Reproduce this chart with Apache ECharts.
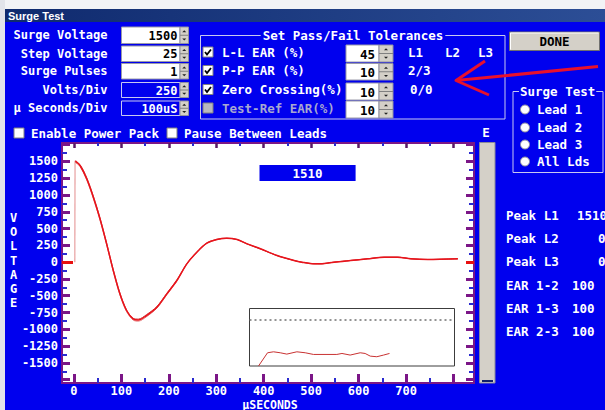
<!DOCTYPE html>
<html>
<head>
<meta charset="utf-8">
<script src="https://cdn.jsdelivr.net/npm/echarts@6/dist/echarts.min.js"></script>
<style>
  html, body { margin: 0; padding: 0; background: #0000ee; }
  #ui, #plot, #ticks { position: absolute; left: 0; top: 0; width: 605px; height: 410px; }
</style>
</head>
<body>
<div id="ui"></div>
<div id="plot"></div>
<div id="ticks"></div>
<script>
// surge waveform: time in µs, voltage in V (three overlapping pulses)
const surgeTimes = [3, 13, 27, 41, 55, 69, 83, 97, 111, 125, 136, 153, 175, 196, 217, 238, 259, 280, 301, 322, 344, 365, 393, 428, 464, 480, 506, 520, 548, 583, 619, 654, 682, 710, 746, 809]
const pulse1 = [1510, 1440, 1242, 968, 646, 273, -124, -472, -720, -845, -860, -795, -671, -472, -273, -25, 148, 282, 338, 357, 338, 273, 199, 99, 25, 0, -25, -25, 0, 25, 50, 74, 74, 50, 40, 50]
const pulse2 = [1495, 1452, 1260, 985, 660, 285, -110, -460, -712, -838, -848, -782, -660, -462, -265, -20, 152, 285, 340, 358, 336, 270, 196, 97, 24, 0, -24, -25, 0, 25, 50, 74, 74, 50, 40, 50]
const pulse3 = [1485, 1428, 1228, 952, 630, 262, -138, -488, -735, -862, -878, -812, -684, -482, -280, -30, 142, 278, 334, 354, 338, 274, 200, 100, 25, 0, -25, -25, 0, 25, 50, 74, 74, 50, 40, 50]
const riseTimes = [2, 2.5]
const riseVolts = [0, 1510]

// axis ticks / labels
const xTickLabels = [0, 100, 200, 300, 400, 500, 600, 700]
const xMajorTicks = [0, 100, 200, 300, 400, 500, 600, 700, 800]
const xMinorTicks = [50, 150, 250, 350, 450, 550, 650, 750]
const yTickLabels = [-1500, -1250, -1000, -750, -500, -250, 0, 250, 500, 750, 1000, 1250, 1500]
const yMajorTicks = [-1750, -1500, -1250, -1000, -750, -500, -250, 0, 250, 500, 750, 1000, 1250, 1500, 1750]
const yMinorTicks = [-1625, -1375, -1125, -875, -625, -375, -125, 125, 375, 625, 875, 1125, 1375, 1625]

// small inset trace (percent of window) and its limit line
const insetX = [4.4, 8.8, 11.7, 15, 18.2, 23.1, 27.2, 31.2, 37.8, 42.6, 45.1, 49.1, 54, 56.4, 58.9, 62.1, 65.4, 68.3]
const insetY = [0, 23, 24.7, 23, 20.7, 24.7, 23, 20.1, 20.1, 20.1, 21.8, 19, 23, 21.8, 17.2, 16.1, 19, 21.8]
const insetLimit = 80

// panel readouts
const setupLabels = ['Surge Voltage', 'Step Voltage', 'Surge Pulses', 'Volts/Div', 'µ Seconds/Div']
const setupValues = ['1500', '25', '1', '250', '100uS']
const tolLabels = ['L-L EAR (%)', 'P-P EAR (%)', 'Zero Crossing(%)', 'Test-Ref EAR(%)']
const tolValues = ['45', '10', '10', '10']
const leadOptions = ['Lead 1', 'Lead 2', 'Lead 3', 'All Lds']
const resultLabels = ['Peak L1', 'Peak L2', 'Peak L3', 'EAR 1-2', 'EAR 1-3', 'EAR 2-3']
const resultValues = ['1510', '0', '0', '100', '100', '100']
const peakL1 = 1510

const BLUE = '#0000ee'
const PURPLE = '#7b1687'
const TICKBLUE = '#2a2ad0'
const GREY = '#d4d0c8'
const MONO = '"DejaVu Sans Mono", monospace'

function txt(s, x, y, o) {
  o = o || {}
  const al = o.align || 'left'
  const style = {
    text: s, fill: o.fill || '#fff',
    font: 'bold ' + (o.size || 12.5) + 'px ' + (o.family || MONO),
    textAlign: al, align: al, textVerticalAlign: 'middle', verticalAlign: 'middle'
  }
  if (o.bg) { style.backgroundColor = o.bg; style.padding = o.pad }
  if (o.lh) style.lineHeight = o.lh
  return { type: 'text', x: x, y: y, z: 20, silent: true, style: style }
}
function rect(x, y, w, h, fill, stroke, lw) {
  return { type: 'rect', z: 10, silent: true, shape: { x: x, y: y, width: w, height: h },
    style: { fill: fill || 'none', stroke: stroke || null, lineWidth: lw || 1 } }
}
function spinner(x, y, w, h) {
  const cx = x + w / 2, m = y + h / 2
  return [
    rect(x, y, w, h, GREY, '#9090a0'),
    { type: 'line', z: 11, silent: true, shape: { x1: x, y1: m, x2: x + w, y2: m }, style: { stroke: '#808080', lineWidth: 1 } },
    { type: 'polygon', z: 11, silent: true, shape: { points: [[cx - 2, y + h / 4 + 1], [cx + 2, y + h / 4 + 1], [cx, y + h / 4 - 1]] }, style: { fill: '#202020' } },
    { type: 'polygon', z: 11, silent: true, shape: { points: [[cx - 2, m + h / 4 - 1], [cx + 2, m + h / 4 - 1], [cx, m + h / 4 + 1]] }, style: { fill: '#202020' } }
  ]
}
function checkbox(x, y, state) {
  const els = [rect(x, y, 10, 10, state === 'off' ? '#b8b8c0' : '#fff', '#808080')]
  if (state === 'on') {
    els.push({ type: 'polyline', z: 12, silent: true, shape: { points: [[x + 2, y + 5], [x + 4, y + 7.5], [x + 8, y + 2.5]] },
      style: { stroke: '#000', lineWidth: 1.8, fill: 'none' } })
  }
  return els
}

const g = []
// window frame
g.push(rect(0, 0, 605, 9, '#f2f3f6'))
g.push(rect(0, 0, 5, 410, '#e2e4ea'))
g.push({ type: 'rect', z: 10, silent: true, shape: { x: 5, y: 9, width: 600, height: 13 },
  style: { fill: { type: 'linear', x: 0, y: 0, x2: 1, y2: 0, colorStops: [{ offset: 0, color: '#0f2a6e' }, { offset: 1, color: '#2c4e96' }] } } })
g.push(txt('Surge Test', 8, 15.5, { size: 11, family: '"Liberation Sans", Arial, sans-serif' }))

// setup fields
const rowY = [[27, 16.5], [46, 15.5], [63.5, 15.5], [82.5, 15], [101, 14.5]]
setupLabels.forEach(function (lab, i) {
  const y = rowY[i][0], h = rowY[i][1]
  g.push(txt(lab, 107.5, y + h / 2, { size: 12, align: 'right' }))
  const white = i < 3
  g.push(rect(121.5, y, 58.5, h, white ? '#fff' : BLUE, white ? '#9a9aa8' : '#c8c8f0'))
  g.push(txt(setupValues[i], 177.5, y + h / 2 + 0.5, { size: 12, align: 'right', fill: white ? '#000' : '#fff' }))
  spinner(180, y, 8.5, h).forEach(function (e) { g.push(e) })
})

// option checkboxes
checkbox(14, 128, 'blank').forEach(function (e) { g.push(e) })
g.push(txt('Enable Power Pack', 31, 133))
checkbox(167, 128, 'blank').forEach(function (e) { g.push(e) })
g.push(txt('Pause Between Leads', 184, 133))

// tolerances group
g.push(rect(200.5, 35.5, 304.5, 83.5, 'none', '#c8c8f0'))
g.push(txt('Set Pass/Fail Tolerances', 353, 35, { align: 'center', bg: BLUE, pad: [0, 2] }))
const tolRow = [[45, 17, 52], [63.5, 16.5, 70.5], [83, 17, 89.5], [101, 17, 108]]
tolLabels.forEach(function (lab, i) {
  const r = tolRow[i]
  checkbox(203, r[2] - 5, i < 3 ? 'on' : 'off').forEach(function (e) { g.push(e) })
  g.push(txt(lab, 222, r[2], { fill: i < 3 ? '#fff' : '#a8a8d0' }))
  g.push(rect(346, r[0], 33, r[1], '#fff', '#9a9aa8'))
  g.push(txt(tolValues[i], 375, r[0] + r[1] / 2 + 0.5, { align: 'right', fill: '#000' }))
  spinner(379, r[0], 14, r[1]).forEach(function (e) { g.push(e) })
})
g.push(txt('L1', 408, 52))
g.push(txt('L2', 445, 52))
g.push(txt('L3', 478, 52))
g.push(txt('2/3', 408, 70.5))
g.push(txt('0/0', 410, 89.5))

// red annotation arrow
g.push({ type: 'polyline', z: 30, silent: true, shape: { points: [[598, 66.5], [456, 80.5]] }, style: { stroke: '#e8102c', lineWidth: 3, fill: 'none' } })
g.push({ type: 'polyline', z: 30, silent: true, shape: { points: [[485, 61], [456, 80.5], [489, 95]] }, style: { stroke: '#e8102c', lineWidth: 3, fill: 'none', lineJoin: 'round' } })

// DONE button
g.push(rect(509.5, 32, 90, 18.5, GREY, '#707070'))
g.push({ type: 'polyline', z: 11, silent: true, shape: { points: [[510.5, 49.5], [510.5, 33], [598.5, 33]] }, style: { stroke: '#fff', lineWidth: 1, fill: 'none' } })
g.push(txt('DONE', 554.5, 41.5, { align: 'center', fill: '#000' }))

// lead selector group
g.push(rect(513, 91.5, 90, 81, 'none', '#c8c8f0'))
g.push(txt('Surge Test', 519, 91, { bg: BLUE, pad: [0, 1] }))
const radioY = [109.5, 127.5, 144.5, 161.5]
leadOptions.forEach(function (lab, i) {
  g.push({ type: 'circle', z: 12, silent: true, shape: { cx: 525, cy: radioY[i], r: 4.5 }, style: { fill: '#fff', stroke: '#9090a0' } })
  g.push(txt(lab, 537, radioY[i]))
})

// results column
const resY = [215, 238.5, 261.5, 285, 308.5, 331.5]
const resX = [577, 598, 598, 572, 572, 572]
resultLabels.forEach(function (lab, i) {
  g.push(txt(lab, 506, resY[i]))
  g.push(txt(resultValues[i], resX[i], resY[i]))
})

// scrollbar and E label
g.push(txt('E', 486, 132, { align: 'center' }))
g.push(rect(479.5, 142.5, 15.5, 240.5, GREY, '#8a8a9a'))
g.push(rect(482, 380, 11, 2, '#10206a'))

// axis titles
g.push(txt('V\nO\nL\nT\nA\nG\nE', 13.5, 260.5, { align: 'center', size: 12, lh: 14.2 }))
g.push(txt('µSECONDS', 270, 404.5, { align: 'center', size: 11.5 }))

// panel layer
const ui = echarts.init(document.getElementById('ui'), null, { renderer: 'svg' })
ui.setOption({ animation: false, backgroundColor: BLUE, graphic: { elements: g } })

// shared axis helpers
const tickAxis = function (pos, vals, len, color, width, extra) {
  return Object.assign({
    type: 'value', gridIndex: 0, position: pos, z: 6,
    axisLine: { show: false, onZero: false }, splitLine: { show: false },
    axisTick: { show: true, inside: true, customValues: vals, length: len, lineStyle: { color: color, width: width } },
    axisLabel: { show: false }
  }, extra || {})
}
const xr = { min: -25, max: 843 }
const yr = { min: -1800, max: 1775 }
const labelStyle = { color: '#fff', fontFamily: MONO, fontWeight: 'bold', fontSize: 12 }
const plain = function (v) { return String(v) }
const mainGrid = { left: 62, top: 143, width: 412, height: 240, outerBoundsMode: 'none', containLabel: false }

// plot layer: frame, labels, traces, inset
const chart = echarts.init(document.getElementById('plot'), null, { renderer: 'svg' })
chart.setOption({
  animation: false,
  backgroundColor: 'transparent',
  title: {
    text: String(peakL1), left: 259.5, top: 165, padding: [1, 33], backgroundColor: BLUE,
    textStyle: { color: '#fff', fontFamily: MONO, fontWeight: 'bold', fontSize: 12.5, lineHeight: 14 }
  },
  grid: [
    Object.assign({ show: true, backgroundColor: '#fff', borderColor: PURPLE, borderWidth: 2, z: 0 }, mainGrid),
    { left: 249.5, top: 308.5, width: 205, height: 57.5, show: true, backgroundColor: '#fff', borderColor: '#3c3c3c', borderWidth: 1, z: 3, outerBoundsMode: 'none', containLabel: false }
  ],
  xAxis: [
    Object.assign({ type: 'value', gridIndex: 0, position: 'bottom', axisLine: { show: false, onZero: false }, splitLine: { show: false }, axisTick: { show: false },
      axisLabel: Object.assign({ show: true, customValues: xTickLabels, margin: 2, formatter: plain }, labelStyle) }, xr),
    { type: 'value', gridIndex: 1, min: 0, max: 100, show: false }
  ],
  yAxis: [
    Object.assign({ type: 'value', gridIndex: 0, position: 'left', axisLine: { show: false, onZero: false }, splitLine: { show: false }, axisTick: { show: false },
      axisLabel: Object.assign({ show: true, customValues: yTickLabels, margin: 4, formatter: plain }, labelStyle) }, yr),
    { type: 'value', gridIndex: 1, min: 0, max: 100, show: false }
  ],
  series: [
    { type: 'line', name: 'rise', xAxisIndex: 0, yAxisIndex: 0, showSymbol: false,
      data: riseTimes.map(function (t, i) { return [t, riseVolts[i]] }),
      lineStyle: { color: '#e8a0a0', width: 1.2 } },
    { type: 'line', name: 'Pulse 3', xAxisIndex: 0, yAxisIndex: 0, showSymbol: false, smooth: 0.3,
      data: surgeTimes.map(function (t, i) { return [t, pulse3[i]] }),
      lineStyle: { color: '#e06a6a', width: 1 } },
    { type: 'line', name: 'Pulse 2', xAxisIndex: 0, yAxisIndex: 0, showSymbol: false, smooth: 0.3,
      data: surgeTimes.map(function (t, i) { return [t, pulse2[i]] }),
      lineStyle: { color: '#cc3030', width: 1 } },
    { type: 'line', name: 'Pulse 1', xAxisIndex: 0, yAxisIndex: 0, showSymbol: false, smooth: 0.3,
      data: surgeTimes.map(function (t, i) { return [t, pulse1[i]] }),
      lineStyle: { color: '#e8141c', width: 1.5 } },
    { type: 'line', name: 'inset', xAxisIndex: 1, yAxisIndex: 1, showSymbol: false, z: 5,
      data: insetX.map(function (x, i) { return [x, insetY[i]] }),
      lineStyle: { color: '#c83232', width: 1 },
      markLine: { silent: true, symbol: 'none', label: { show: false },
        lineStyle: { color: '#707070', type: [2, 3], width: 1.5 },
        data: [{ yAxis: insetLimit }] } }
  ]
})

// tick layer on top of the plot frame
const ticks = echarts.init(document.getElementById('ticks'), null, { renderer: 'svg' })
ticks.setOption({
  animation: false,
  backgroundColor: 'transparent',
  grid: [Object.assign({ show: false }, mainGrid)],
  xAxis: [
    tickAxis('bottom', xMajorTicks, 9, PURPLE, 3, xr),
    tickAxis('bottom', xMinorTicks, 5, TICKBLUE, 2, xr),
    tickAxis('top', xMajorTicks, 5, '#5a1866', 2.5, xr),
    tickAxis('top', xMinorTicks, 3, TICKBLUE, 2, xr)
  ],
  yAxis: [
    tickAxis('left', yMajorTicks, 8, PURPLE, 3, yr),
    tickAxis('left', yMinorTicks, 5, TICKBLUE, 2, yr),
    tickAxis('right', yMajorTicks, 8, PURPLE, 3, yr),
    tickAxis('right', yMinorTicks, 5, TICKBLUE, 2, yr),
    tickAxis('left', [0], 11, '#e81010', 3, yr),
    tickAxis('right', [0], 8, '#e81010', 3, yr)
  ],
  series: []
})
</script>
</body>
</html>
